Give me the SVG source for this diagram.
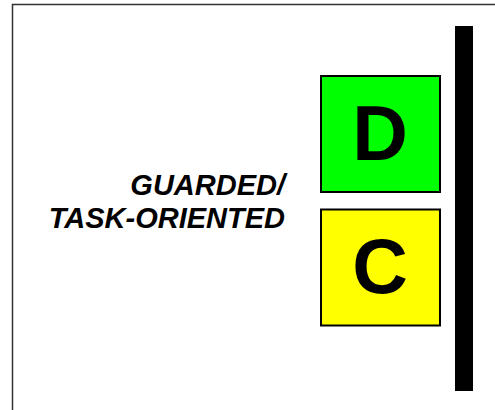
<svg xmlns="http://www.w3.org/2000/svg" width="495" height="410" viewBox="0 0 495 410">
<style>
.box{stroke:#000;stroke-width:2}
.big{font-family:"Liberation Sans",Arial,sans-serif;font-weight:bold;font-size:77px;text-anchor:middle;fill:#000}
.lbl{font-family:"Liberation Sans",Arial,sans-serif;font-weight:bold;font-style:italic;font-size:29px;text-anchor:end;fill:#000}
</style>
<rect x="0" y="0" width="495" height="410" fill="#fff"/>
<path d="M12.5,410 V4.5 H495" fill="none" stroke="#333" stroke-width="1.5"/>
<rect x="455" y="26" width="18" height="365" fill="#000"/>
<g id="node-D">
<rect class="box" x="321" y="76" width="119" height="116" fill="#00ff00"/>
<text class="big" x="380" y="160">D</text>
</g>
<g id="node-C">
<rect class="box" x="321" y="209.5" width="119" height="116" fill="#ffff00"/>
<text class="big" x="380" y="293">C</text>
</g>
<g id="label">
<text class="lbl" x="285" y="195">GUARDED/</text>
<text class="lbl" x="285" y="228">TASK-ORIENTED</text>
</g>
<g id="connectors"></g>
</svg>
